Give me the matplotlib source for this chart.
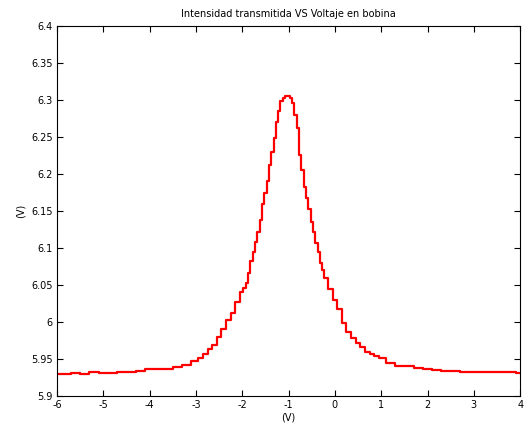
"""Transmitted intensity vs coil voltage, redrawn as a MATLAB-style figure.

Writes ``out.png`` (about 530x430 px) in the current folder.
"""

import matplotlib

matplotlib.use("Agg")  # headless
import matplotlib.pyplot as plt  # noqa: E402

# coil voltage (V) (finer near the peak)
VOLTAGE = [
    -6.0, -5.8, -5.6, -5.4, -5.2, -5.0, -4.8, -4.6, -4.4, -4.2,
    -4.0, -3.8, -3.6, -3.4, -3.2, -3.0, -2.9, -2.8, -2.7, -2.6,
    -2.5, -2.4, -2.3, -2.2, -2.1,
    -2.00, -1.95, -1.90, -1.85, -1.80, -1.75, -1.70, -1.65, -1.60, -1.55,
    -1.50, -1.45, -1.40, -1.35, -1.30, -1.25, -1.20, -1.15, -1.10, -1.05,
    -1.00, -0.95, -0.90, -0.85, -0.80, -0.75, -0.70, -0.65, -0.60, -0.55,
    -0.50, -0.45, -0.40, -0.35, -0.30, -0.25, -0.20,
    -0.1, 0.0, 0.1, 0.2, 0.3, 0.4,
    0.5, 0.6, 0.7, 0.8, 0.9, 1.0, 1.2, 1.4, 1.6, 1.8,
    2.0, 2.2, 2.4, 2.6, 2.8, 3.0, 3.2, 3.4, 3.6, 3.8, 4.0,
]
# transmitted intensity (V)
INTENSITY = [
    5.930, 5.930, 5.931, 5.930, 5.932, 5.931, 5.931, 5.932, 5.933, 5.934,
    5.936, 5.936, 5.937, 5.939, 5.942, 5.947, 5.951, 5.957, 5.963, 5.969,
    5.980, 5.991, 6.003, 6.012, 6.027,
    6.040, 6.046, 6.053, 6.066, 6.082, 6.095, 6.108, 6.122, 6.138, 6.160,
    6.174, 6.190, 6.212, 6.230, 6.248, 6.270, 6.285, 6.298, 6.303, 6.305,
    6.305, 6.303, 6.296, 6.280, 6.262, 6.225, 6.205, 6.182, 6.168, 6.153,
    6.135, 6.122, 6.106, 6.094, 6.080, 6.070, 6.060,
    6.045, 6.030, 6.018, 5.998, 5.987, 5.978,
    5.972, 5.966, 5.960, 5.957, 5.954, 5.951, 5.944, 5.941, 5.940, 5.938,
    5.936, 5.935, 5.934, 5.934, 5.933, 5.933, 5.932, 5.932, 5.933, 5.932, 5.931,
]

X_TICKS = [-6, -5, -4, -3, -2, -1, 0, 1, 2, 3, 4]
Y_TICKS = [5.9, 5.95, 6.0, 6.05, 6.1, 6.15, 6.2, 6.25, 6.3, 6.35, 6.4]
Y_LABELS = ["5.9", "5.95", "6", "6.05", "6.1", "6.15", "6.2", "6.25", "6.3", "6.35", "6.4"]


def main() -> None:
    fig = plt.figure(figsize=(5.3, 4.3), dpi=100)
    ax = fig.add_axes([0.1075, 0.079, 0.874, 0.861])
    ax.plot(VOLTAGE, INTENSITY, color="#ff0000", lw=1.6, drawstyle="steps-mid")

    ax.set_xlim(-6, 4)
    ax.set_ylim(5.9, 6.4)
    ax.set_xticks(X_TICKS)
    ax.set_xticklabels([str(t) for t in X_TICKS])
    ax.set_yticks(Y_TICKS)
    ax.set_yticklabels(Y_LABELS)
    ax.tick_params(direction="in", top=True, right=True, length=4,
                   labelsize=7, width=0.8, pad=3)
    for s in ax.spines.values():
        s.set_linewidth(0.8)

    ax.set_xlabel("(V)", fontsize=7, labelpad=2)
    ax.set_ylabel("(V)", fontsize=7, labelpad=4)
    ax.set_title("Intensidad transmitida VS Voltaje en bobina", fontsize=7, pad=6)

    fig.savefig("out.png", dpi=100)
    plt.close(fig)


if __name__ == "__main__":
    main()
